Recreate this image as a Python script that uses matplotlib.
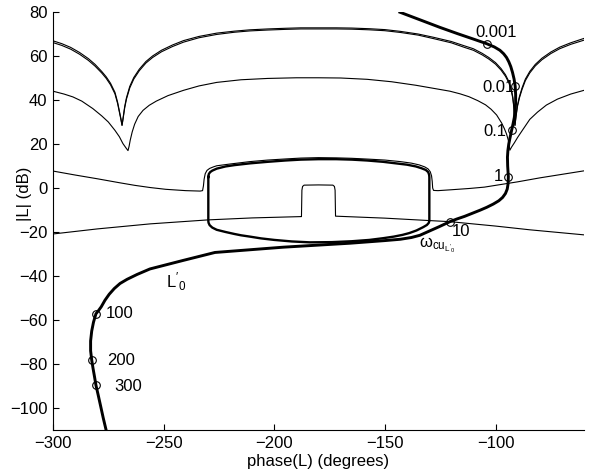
import matplotlib
matplotlib.use("Agg")
import matplotlib.pyplot as plt

plt.rcParams['font.family'] = ['Liberation Sans', 'DejaVu Sans']
plt.rcParams['mathtext.fontset'] = 'custom'
plt.rcParams['mathtext.rm'] = 'Liberation Sans'
plt.rcParams['mathtext.it'] = 'Liberation Sans:italic'
plt.rcParams['axes.unicode_minus'] = True

# ---- bounds: omega = 0.001 / 0.01 (two nearly coincident curves) ----
top_phase = [-300, -296, -292, -288, -284, -281, -278, -276, -274, -272, -270.8, -270, -269.3,
             -268.8, -268.3, -267.6, -266.8, -265.3, -263.5, -261, -258, -255, -251, -246,
             -241, -234, -226, -218, -211, -203, -195, -188, -180, -172, -165, -157, -150,
             -143, -135, -128, -120, -114, -110, -106, -103, -100, -97.5, -95.5, -94, -93,
             -92.2, -91.7, -91.2, -90.7, -90.1, -89.2, -88, -86.5, -84.5, -82, -79, -75,
             -71, -66, -60]
top_db_a = [66.9, 65.6, 63.9, 61.6, 58.8, 56.2, 53.0, 50.6, 47.6, 43.5, 39.0, 35.0, 31.5,
            28.5, 32.0, 37.0, 41.0, 46.2, 50.2, 54.0, 57.5, 60.0, 62.6, 65.0,
            67.0, 68.9, 70.4, 71.3, 71.9, 72.3, 72.6, 72.8, 72.8, 72.8, 72.7, 72.4, 72.0,
            71.2, 70.0, 68.5, 66.6, 64.6, 63.3, 61.2, 59.3, 57.0, 54.3, 51.5, 48.5, 45.5,
            41.5, 37.0, 28.5, 33.0, 37.5, 41.5, 45.5, 49.5, 53.0, 56.2, 59.0, 61.8,
            64.0, 66.0, 68.0]
top_db_b = [66.1, 64.8, 63.1, 60.8, 58.0, 55.4, 52.3, 49.9, 46.9, 42.8, 38.4, 34.5, 31.1,
            28.5, 31.6, 36.4, 40.4, 45.5, 49.5, 53.3, 56.8, 59.3, 61.9, 64.3,
            66.3, 68.3, 69.8, 70.8, 71.4, 71.8, 72.1, 72.3, 72.3, 72.3, 72.2, 71.9, 71.5,
            70.7, 69.5, 67.9, 66.0, 63.9, 62.6, 60.5, 58.6, 56.3, 53.6, 50.8, 47.9, 44.9,
            40.9, 36.5, 28.5, 32.6, 36.9, 40.9, 44.8, 48.8, 52.3, 55.5, 58.3, 61.1,
            63.3, 65.3, 67.2]

# ---- bound: omega = 0.1 ----
b01_phase = [-300, -295, -291, -287, -282, -278, -275, -272, -270, -268.4, -267, -266.1,
             -265.6, -265.1, -264.2, -263.1, -261.5, -259.3, -256.5, -253.3, -248, -241, -234,
             -226, -215, -203, -190, -180, -170, -158, -147, -136, -128, -120.6, -116, -112,
             -108, -104.5, -102, -99.5, -97.2, -96, -95, -94.2, -93.8, -93.5, -92.8, -91.5,
             -90, -88, -84.5, -81, -77, -72, -66, -60]
b01_db = [44.0, 42.7, 41.4, 39.5, 36.1, 32.8, 30.0, 26.2, 23.3, 20.2, 18.2, 17.0,
          19.0, 21.7, 25.5, 29.0, 32.5, 35.3, 37.6, 39.5, 42.0, 44.4, 46.4,
          48.0, 49.2, 49.8, 50.1, 50.1, 50.0, 49.4, 48.3, 46.7, 45.3, 44.0, 42.8, 41.5,
          39.7, 37.8, 35.8, 33.2, 29.5, 27.0, 24.5, 21.7, 19.0, 17.2, 18.5, 20.5,
          23.0, 26.0, 31.2, 34.5, 37.7, 40.4, 42.7, 44.4]

# ---- bound: omega = 1 (open, with step) ----
b1_phase = [-300, -290, -280, -270, -263, -256, -249, -240, -233.5, -232.4, -232.0, -231.7,
            -231.2, -230.4, -229.2, -227.5, -226, -220, -211, -203, -195, -188, -180, -172,
            -165, -157, -150, -143, -138, -134.5, -132, -130.5, -129.5, -128.9, -128.6,
            -128.4, -128.0, -126, -120, -111.6, -105, -100, -90, -80, -70, -60]
b1_db = [7.7, 5.9, 4.2, 2.4, 1.2, 0.2, -0.6, -1.2, -1.4, -1.2, 1.0, 4.0,
         6.5, 8.0, 8.9, 9.6, 10.1, 10.9, 12.0, 12.7, 13.2, 13.6, 13.8, 13.7,
         13.5, 13.1, 12.7, 12.0, 11.3, 10.5, 9.6, 8.7, 7.4, 5.5, 3.0,
         0.0, -1.1, -1.2, -0.8, -0.2, 0.4, 1.2, 2.8, 4.6, 6.2, 7.8]

# ---- bound: closed region ----
loop_phase = [-229.8, -229.6, -229, -228, -226, -222, -218, -211, -203, -195, -188, -180,
              -172, -165, -158, -150.8, -145, -140, -136, -133.5, -131.5, -130.4, -130,
              -129.9, -129.9, -130.2, -131, -132.7, -135.7, -139, -142, -146, -150.7, -157,
              -165, -174, -183.9, -192, -200, -206, -211, -215, -218, -222, -226, -228,
              -229.2, -229.7, -229.8, -229.8]
loop_db = [5.0, 6.3, 7.2, 7.9, 8.8, 9.8, 10.4, 11.2, 11.9, 12.5, 12.9, 13.1,
           13.1, 12.9, 12.5, 11.9, 11.2, 10.6, 9.8, 9.0, 8.2, 7.2, 6.0,
           5.0, -15.0, -15.9, -16.8, -17.8, -19.3, -20.5, -21.3, -22.1, -22.8, -23.6,
           -24.2, -24.6, -24.7, -24.3, -23.6, -22.9, -22.1, -21.5, -20.9, -20.0, -19.0, -18.0,
           -16.9, -15.8, -15.0, 5.0]

# ---- bound: omega = 10 (with notch) ----
b10_phase = [-300, -280, -256, -230, -210, -188, -187.7, -187.5, -187.2, -186.5, -180, -173.5,
             -172.8, -172.5, -172.3, -150, -130, -120.6, -100, -84.5, -60]
b10_db = [-20.9, -18.6, -16.3, -14.5, -13.6, -13.0, -13.0, -1.0, 0.7, 1.3, 1.4, 1.3,
          0.7, -1.0, -12.8, -13.7, -14.8, -15.3, -17.3, -19.0, -21.3]

# ---- nominal open loop L'0 ----
L0_phase = [-143.2, -134, -125.1, -117, -110, -104, -100.5, -98, -96.3, -95, -94, -93.1,
            -92.3, -91.6, -91.1, -90.9, -90.9, -91.1, -91.5, -92.1, -92.7, -93.4, -94.0,
            -94.4, -94.6, -94.5, -94.2, -94.3, -94.7, -95.5, -96.8, -98.5, -101, -104,
            -107, -110.5, -114, -117.5, -120.6, -125.5, -130.4, -134.2, -138, -143, -150,
            -165.8, -195.9, -226.8, -241.1, -256.2, -262, -266.5, -269.7, -272.3, -274.6,
            -276.5, -278.2, -279.5, -280.6, -281.7, -282.5, -283.0, -283.0, -282.5, -281.9,
            -281.2, -280.6, -279.6, -278.5, -277.3, -276]
L0_db = [79.9, 76.4, 73.0, 70.1, 67.7, 65.6, 64.1, 62.6, 61.0, 59.3, 57.4, 55.2,
         52.5, 49.5, 46.2, 42.5, 39.0, 35.5, 32.0, 29.0, 26.3, 23.0, 20.0,
         17.0, 14.0, 10.0, 5.1, 2.0, -0.5, -2.5, -4.3, -5.8, -7.3, -8.8,
         -10.1, -11.5, -12.9, -14.1, -15.3, -17.6, -19.8, -21.5, -22.5, -23.3, -23.9,
         -25.1, -26.9, -29.3, -32.9, -36.8, -39.3, -41.5, -43.4, -45.7, -48.3,
         -51.0, -54.0, -55.8, -57.2, -61.0, -65.0, -69.5, -74.0, -78.2, -82.0,
         -86.0, -89.6, -94.0, -99.0, -104.5, -110.0]

# ---- frequency markers ----
freq_labels = ['0.001', '0.01', '0.1', '1', '10', '100', '200', '300']
freq_phase = [-104.0, -91.0, -92.7, -94.2, -120.6, -280.6, -282.5, -280.6]
freq_db = [65.6, 46.2, 26.3, 5.1, -15.3, -57.2, -78.2, -89.6]
label_phase = [-109.3, -105.8, -105.5, -100.9, -119.9, -276.0, -275.7, -272.4]
label_db = [70.7, 45.8, 25.6, 5.4, -20.0, -57.1, -78.2, -90.3]

fig = plt.figure(figsize=(5.89, 4.74), dpi=100)
ax = fig.add_axes([53/589, 1-430/474, (584-53)/589, (430-12)/474])

thin = dict(color='black', lw=0.8)
ax.plot(top_phase, top_db_a, **thin)
ax.plot(top_phase, top_db_b, **thin)
ax.plot(b01_phase, b01_db, **thin)
ax.plot(b1_phase, b1_db, **thin)
ax.plot(loop_phase, loop_db, color='black', lw=1.7)
ax.plot(b10_phase, b10_db, **thin)
ax.plot(L0_phase, L0_db, color='black', lw=2.1)
ax.plot(freq_phase, freq_db, 'o', mfc='none', mec='black', ms=5.5, mew=0.8)

for lab, px, py in zip(freq_labels, label_phase, label_db):
    ax.text(px, py, lab, fontsize=12, ha='left', va='center')

ax.text(-248.8, -42.4, r"$\mathrm{L'_0}$", fontsize=12, ha='left', va='center')
ax.text(-134.8, -26.8, r"$\mathrm{\omega_{cu_{L'_0}}}$", fontsize=12, ha='left', va='baseline')

ax.set_xlim(-300, -60)
ax.set_ylim(-110, 80)
ax.set_xticks([-300, -250, -200, -150, -100])
ax.set_yticks(list(range(-100, 81, 20)))
ax.spines['top'].set_visible(False)
ax.spines['right'].set_visible(False)
ax.tick_params(direction='in', length=4, width=0.8, labelsize=12, pad=4,
               top=False, right=False)
ax.set_xlabel('phase(L) (degrees)', fontsize=12)
ax.set_ylabel('|L| (dB)', fontsize=12)
ax.xaxis.set_label_coords(0.5, -0.058)
ax.yaxis.set_label_coords(-0.04, 0.565)

fig.savefig('out.png', dpi=100)
